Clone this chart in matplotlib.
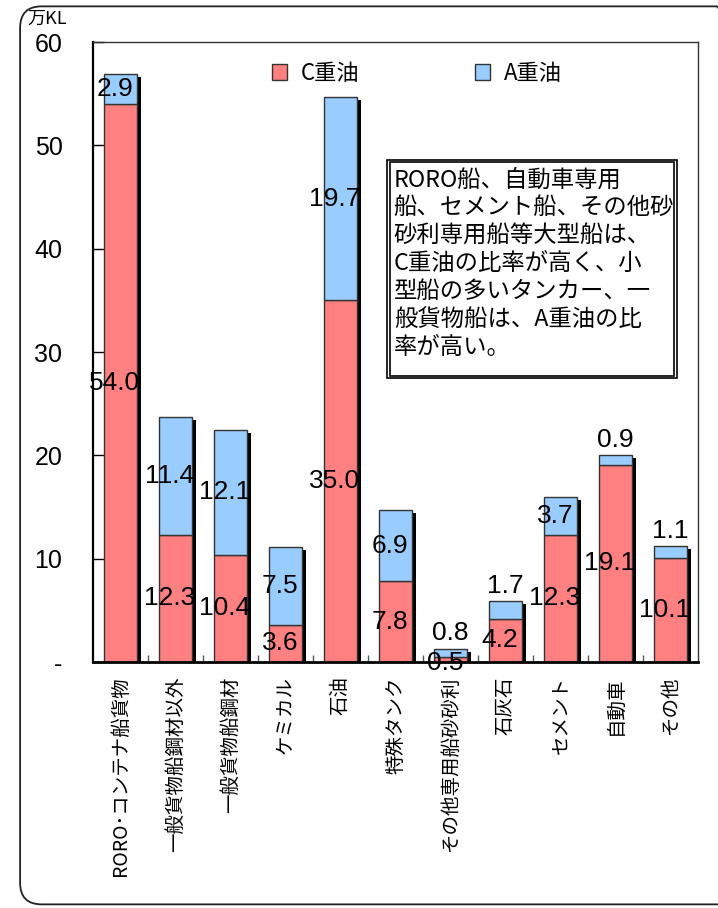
import matplotlib
matplotlib.use("Agg")
import matplotlib.pyplot as plt
from matplotlib import font_manager
from matplotlib.patches import FancyBboxPatch, Rectangle
import numpy as np

categories = ["RORO･コンテナ船貨物", "一般貨物船鋼材以外", "一般貨物船鋼材", "ケミカル", "石油",
              "特殊タンク", "その他専用船砂砂利", "石灰石", "セメント", "自動車", "その他"]
c_oil = [54.0, 12.3, 10.4, 3.6, 35.0, 7.8, 0.5, 4.2, 12.3, 19.1, 10.1]
a_oil = [2.9, 11.4, 12.1, 7.5, 19.7, 6.9, 0.8, 1.7, 3.7, 0.9, 1.1]
yticks = [0, 10, 20, 30, 40, 50, 60]
ytick_labels = ["-", "10", "20", "30", "40", "50", "60"]
note = ("RORO船、自動車専用\n船、セメント船、その他砂\n砂利専用船等大型船は、\n"
        "C重油の比率が高く、小\n型船の多いタンカー、一\n般貨物船は、A重油の比\n率が高い。")

names = {f.name for f in font_manager.fontManager.ttflist}
num_font = "Liberation Sans Narrow" if "Liberation Sans Narrow" in names else "Liberation Sans"
jp = ["Noto Sans CJK JP", "DejaVu Sans"]
plt.rcParams["font.family"] = jp

C_COL = "#FF8080"
A_COL = "#99CCFF"

fig = plt.figure(figsize=(7.18, 9.08), dpi=100, facecolor="white")
# cadre arrondi extérieur (bord droit hors image)
fig.patches.append(FancyBboxPatch((0.028, 0.004), 1.0, 0.989, boxstyle="round,pad=0,rounding_size=0.03",
                                  transform=fig.transFigure, fill=False, ec="#222222", lw=1.3,
                                  mutation_aspect=718 / 908))

ax = fig.add_axes([93 / 718, 1 - 662 / 908, 605 / 718, 620 / 908])
x = np.arange(len(categories))
w = 0.6
tot = np.array(c_oil) + np.array(a_oil)

# ombre
ax.bar(x + 0.07, tot - 0.3, w, color="black", zorder=1)
ax.bar(x, c_oil, w, color=C_COL, edgecolor="#333333", lw=1, zorder=2)
ax.bar(x, a_oil, w, bottom=c_oil, color=A_COL, edgecolor="#333333", lw=1, zorder=2)

fs = 19
dx = -0.1
for i in range(len(x)):
    c, a = c_oil[i], a_oil[i]
    ax.text(x[i] + dx, c / 2 - (0.3 if c < 1 else 0), f"{c:.1f}", ha="center", va="center",
            fontsize=fs, family=num_font, zorder=5)
    if a < 2:
        ax.text(x[i], c + a + 0.3, f"{a:.1f}", ha="center", va="bottom",
                fontsize=fs, family=num_font, zorder=5)
    else:
        ax.text(x[i] + dx, c + a / 2, f"{a:.1f}", ha="center", va="center",
                fontsize=fs, family=num_font, zorder=5)

ax.set_xlim(-0.5, len(x) - 0.5)
ax.set_ylim(0, 60)
ax.set_yticks(yticks)
ax.set_yticklabels(ytick_labels, fontsize=18, family="Liberation Sans")
ax.tick_params(axis="y", direction="in", length=8, pad=22, width=1)
ax.set_xticks(x[:-1] + 0.5)
ax.set_xticklabels([])
ax.tick_params(axis="x", direction="in", length=5, width=1, color="#555555")
for i, name in enumerate(categories):
    ax.text(x[i], -1.4, name, rotation=90, ha="center", va="top", fontsize=14)

ax.spines["left"].set_linewidth(1.6)
ax.spines["bottom"].set_linewidth(2)
for s in ("top", "right"):
    ax.spines[s].set_color("#333333")
    ax.spines[s].set_linewidth(1)

fig.text(27 / 718, 1 - 19 / 908, "万KL", fontsize=13, va="center", ha="left")

# légende
h1 = Rectangle((0, 0), 1, 1, fc=C_COL, ec="#333333")
h2 = Rectangle((0, 0), 1, 1, fc=A_COL, ec="#333333")
ax.legend([h1, h2], ["C重油", "A重油"], ncol=2, loc="upper center", bbox_to_anchor=(0.535, 1.0),
          frameon=False, fontsize=16, handlelength=0.7, handleheight=0.7, columnspacing=5.2,
          handletextpad=0.6)

# encadré double
x0, x1, y0, y1 = 0.486, 0.965, 0.458, 0.81
ax.add_patch(Rectangle((x0, y0), x1 - x0, y1 - y0, transform=ax.transAxes, fc="white",
                       ec="black", lw=1.2, zorder=6))
ax.add_patch(Rectangle((x0 + 0.005, y0 + 0.004), x1 - x0 - 0.01, y1 - y0 - 0.008,
                       transform=ax.transAxes, fill=False, ec="black", lw=1.2, zorder=7))
ax.text(x0 + 0.011, y1 - 0.014, note, transform=ax.transAxes, ha="left", va="top", fontsize=16.8,
        linespacing=1.27, zorder=8)

fig.savefig("out.png", dpi=100, facecolor="white")
